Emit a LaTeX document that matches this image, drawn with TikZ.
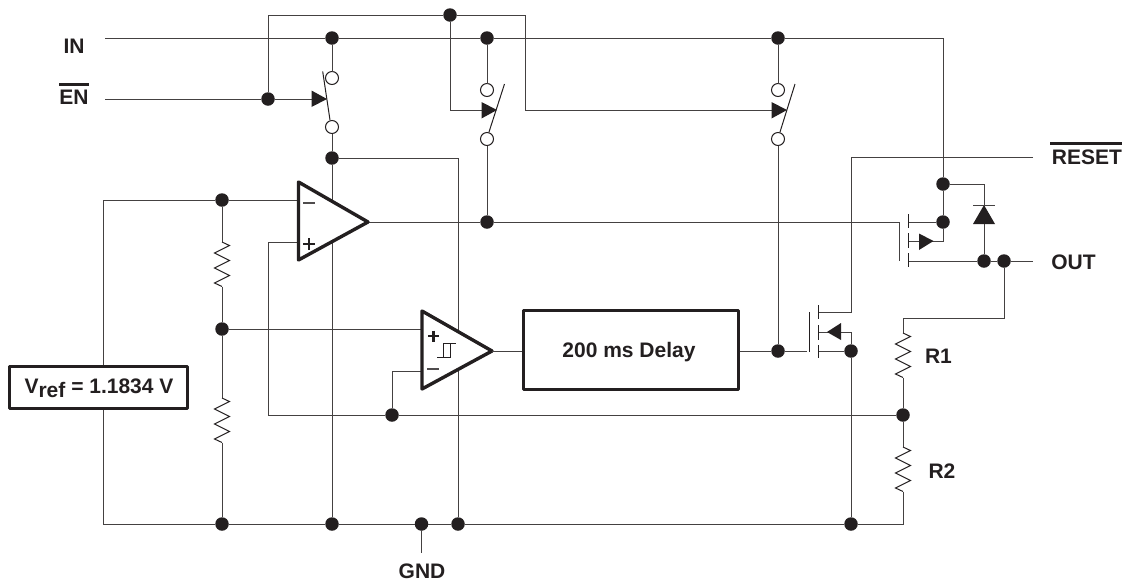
\documentclass[tikz,border=0pt]{standalone}
\usepackage{fontspec}
\setmainfont{Liberation Sans}
\definecolor{ink}{HTML}{231F20}
\newcommand{\rzz}{-- ++(7.5,3.5) -- ++(-15,7.5) -- ++(15,7.5) -- ++(-15,7.5) -- ++(15,7.5) -- ++(-15,7.5) -- ++(7.5,3.5)}
\tikzset{
  wire/.style={draw=ink!85,line width=1pt,line join=miter},
  dotj/.style={circle,fill=ink,draw=none,minimum size=13.5pt,inner sep=0pt,outer sep=0pt},
  openc/.style={circle,fill=white,draw=ink,line width=1pt,minimum size=13pt,inner sep=0pt,outer sep=0pt},
  blade/.style={draw=ink,line width=1pt},
  tip/.style={fill=ink,draw=none},
  thick box/.style={draw=ink,line width=3pt,fill=white,line join=round},
  amp/.style={draw=ink,line width=3.4pt,fill=white,line join=round},
  lab/.style={font=\fontsize{21}{24}\selectfont\bfseries,text=ink,inner sep=0pt,outer sep=0pt,anchor=base},
  res/.style={draw=ink,line width=1pt,line join=miter},
  mosbar/.style={draw=ink,line width=1pt},
  sign/.style={draw=ink!80,line width=1.3pt},
  plusS/.style={draw=ink,line width=2.4pt},
  over/.style={draw=ink,line width=2.5pt}
}
\begin{document}
\begin{tikzpicture}[x=1pt,y=-1pt]
\useasboundingbox (0,0) rectangle (1125,582);
% --- terminals
\coordinate (inL) at (105,38);
\coordinate (enL) at (105,99);
\coordinate (resetR) at (1033,157);
\coordinate (outR) at (1033,261);
\coordinate (gndB) at (421.5,553);
\coordinate (inR) at (943,38);
\coordinate (topL) at (268,15);
\coordinate (topR) at (525,15);
% --- junctions
\node[dotj] (jEn) at (268,99) {};
\node[dotj] (jTop) at (450,15) {};
\node[dotj] (jI1) at (332,38) {};
\node[dotj] (jI2) at (487,38) {};
\node[dotj] (jI3) at (778,38) {};
\node[dotj] (jS1) at (332,158) {};
\node[dotj] (jA) at (222,200) {};
\node[dotj] (jB) at (222,329) {};
\node[dotj] (jAout) at (487,222) {};
\node[dotj] (jP1) at (943,184) {};
\node[dotj] (jP2) at (943,222) {};
\node[dotj] (jO1) at (984,261) {};
\node[dotj] (jO2) at (1004,261) {};
\node[dotj] (jDel) at (778,351) {};
\node[dotj] (jN) at (851,351) {};
\node[dotj] (jFb) at (392,415) {};
\node[dotj] (jR) at (903,415) {};
\node[dotj] (g1) at (222,524) {};
\node[dotj] (g2) at (332,524) {};
\node[dotj] (g3) at (421.5,524) {};
\node[dotj] (g4) at (458,524) {};
\node[dotj] (g5) at (851,524) {};
% --- switches contacts
\node[openc] (s1a) at (332,78) {};
\node[openc] (s1b) at (332,127) {};
\node[openc] (s2a) at (487,90) {};
\node[openc] (s2b) at (487,139) {};
\node[openc] (s3a) at (778,90) {};
\node[openc] (s3b) at (778,139) {};
% --- helper coordinates
\coordinate (a1) at (312,99);
\coordinate (a2) at (482,110);
\coordinate (a3) at (772,110);
\coordinate (gndL) at (103,524);
\coordinate (gndR) at (903,524);
\coordinate (vrT) at (103,200);
\coordinate (pIn) at (298,200);
\coordinate (qIn) at (298,242);
\coordinate (qC) at (268,242);
\coordinate (qD) at (268,415);
\coordinate (cp) at (422,329);
\coordinate (cmB) at (422,371);
\coordinate (gP) at (899,222);
\coordinate (gPb) at (899,261);
\coordinate (dP) at (908,222);
\coordinate (bP) at (933,241);
\coordinate (bPs) at (908,241);
\coordinate (sP) at (908,261);
\coordinate (dC) at (984,184);
\coordinate (rstC) at (851,157);
\coordinate (rstD) at (851,312);
\coordinate (dN) at (818,312);
\coordinate (bN) at (841,332);
\coordinate (bNs) at (818,332);
\coordinate (bNc) at (851,332);
\coordinate (sN) at (818,351);
\coordinate (gN) at (807,351);
\coordinate (r1T) at (903,318);
\coordinate (r1a) at (903,333);
\coordinate (r1b) at (903,378);
\coordinate (r2a) at (903,447);
\coordinate (r2b) at (903,492);
\coordinate (ra) at (222,242);
\coordinate (rb) at (222,287);
\coordinate (rc) at (222,398);
\coordinate (rd) at (222,443);
\coordinate (ampTip) at (368,222);
\coordinate (cmpTip) at (492,351);
% --- wires
\draw[wire] (inL) -- (jI1) -- (jI2) -- (jI3) -- (inR) -- (jP1) -- (jP2) |- (bP);
\draw[wire] (enL) -- (jEn) -- (a1);
\draw[wire] (jEn) -- (topL) -- (jTop) -- (topR) |- (a3);
\draw[wire] (jTop) |- (a2);
\draw[wire] (jI1) -- (s1a) (s1b) -- (jS1) -- (g2);
\draw[wire] (jS1) -| (g4);
\draw[wire] (jI2) -- (s2a) (s2b) -- (jAout);
\draw[wire] (jI3) -- (s3a) (s3b) -- (jDel);
\draw[wire] (vrT) -- (jA) -- (pIn);
\draw[wire] (vrT) -- (gndL) -- (g1) -- (g2) -- (g3) -- (g4) -- (g5) -- (gndR) -- (r2b);
\draw[wire] (jA) -- (ra) (rb) -- (jB) -- (rc) (rd) -- (g1);
\draw[res] (ra) \rzz;
\draw[res] (rc) \rzz;
\draw[wire] (jB) -- (cp);
\draw[wire] (qIn) -- (qC) -- (qD) -- (jFb) -- (jR);
\draw[wire] (jFb) |- (cmB);
\draw[wire] (g3) -- (gndB);
\draw[wire] (ampTip) -- (jAout) -- (gP) -- (gPb);
\draw[wire] (jP1) -- (dC) -- (jO1);
\draw[wire] (dP) -- (jP2);
\draw[wire] (sP) -- (jO1) -- (jO2) -- (outR);
\draw[wire] (jO2) |- (r1T) -- (r1a);
\draw[wire] (r1b) -- (jR) -- (r2a);
\draw[res] (r1a) \rzz;
\draw[res] (r2a) \rzz;
\draw[wire] (resetR) -- (rstC) -- (rstD) -- (dN);
\draw[wire] (bN) -- (bNc) -- (jN);
\draw[wire] (sN) -- (jN) -- (g5);
\draw[wire] (jDel) -- (gN);
\draw[wire] (bNs) -- (bN);
\draw[wire] (bPs) -- (bP);
% --- MOS bars
\draw[mosbar] (908,214)--(908,228) (908,233)--(908,248) (908,253)--(908,267);
\draw[mosbar] (818,305)--(818,319) (818,325)--(818,340) (818,345)--(818,358);
\draw[mosbar] (809,312)--(809,352);
% --- MOS and switch tips
\fill[tip] (919,233.5)--(933.5,241)--(919,250)--cycle;
\fill[tip] (841,323)--(827,332)--(841,340)--cycle;
\fill[tip] (311.5,90.5)--(327,99)--(311.5,107)--cycle;
\fill[tip] (481.5,102)--(497,110)--(481.5,118.5)--cycle;
\fill[tip] (771.5,102)--(787,110)--(771.5,118.5)--cycle;
% --- switch blades
\draw[blade] (322.7,71.5) -- (330,120);
\draw[blade] (504.5,84) -- (489,132);
\draw[blade] (795,84) -- (780,132);
% --- diode
\fill[tip] (973,224)--(995,224)--(984,205)--cycle;
\draw[wire] (973,205)--(995,205);
% --- comparators
\filldraw[amp] (298.5,182)--(ampTip)--(298.5,260)--cycle;
\filldraw[amp] (422,311)--(cmpTip)--(422,389)--cycle;
\node[thick box,minimum width=215pt,minimum height=79pt,inner sep=0pt] (delay) at (630.5,350) {};
\node[lab] (delayT) at (629,357) {200 ms Delay};
\draw[wire] (cmpTip) -- (delay.west |- cmpTip);
\draw[wire] (delay.east |- jDel) -- (jDel);
% --- signs
\draw[sign] (303,203)--(315,203);
\draw[plusS] (303,244)--(315,244) (309,238)--(309,250);
\draw[sign] (427,369)--(439,369);
\draw[plusS] (428,336)--(439,336) (433.5,330.5)--(433.5,341.5);
\draw[draw=ink,line width=1pt] (437,357)--(450,357)--(450,343.5)--(456,343.5) (443,357)--(443,343.5)--(450,343.5);
% --- vref
\node[thick box,minimum width=178pt,minimum height=42pt,inner sep=0pt] (vref) at (98,387) {};
\node[lab] (vrefT) at (99,393) {V\raisebox{-4pt}{ref} = 1.1834 V};
% --- labels
\node[lab] (lIN) at (74,53) {IN};
\node[lab] (lEN) at (74,104) {EN};
\draw[over] (59,84.5)--(89,84.5);
\node[lab,anchor=base east] (lRESET) at (1122,164) {RESET};
\draw[over] (1050,143.5)--(1122,143.5);
\node[lab] (lOUT) at (1073.5,269) {OUT};
\node[lab] (lR1) at (938.5,363) {R1};
\node[lab] (lR2) at (942,478) {R2};
\node[lab] (lGND) at (422,578) {GND};
\end{tikzpicture}
\end{document}
